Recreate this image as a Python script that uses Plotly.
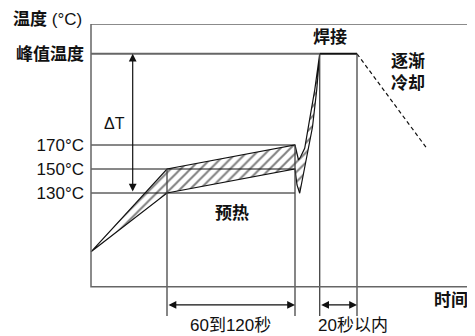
import plotly.graph_objects as go

# Температурный профиль пайки (схема), время в условных единицах
peak_temp = 246
preheat_levels = [130, 150, 170]
preheat_labels = ['130°C', '150°C', '170°C']
peak_label = '<b>峰值温度</b>'

# верхняя граница профиля
upper_time = [0, 76, 204, 206, 207.5, 209.5, 211.5, 213.7, 217.7, 223.7, 228.7]
upper_temp = [81, 150, 170, 161.7, 157.5, 160, 163.3, 167.3, 186.7, 215.8, 246]
# нижняя граница профиля
lower_time = [0, 76, 204, 206, 208.7, 212, 215, 218, 221.5, 225.7, 228.7]
lower_temp = [81, 130, 150, 136.7, 129.8, 144.2, 157.1, 170, 185, 215.8, 246]

preheat_start, preheat_end = 76, 204
reflow_start, reflow_end = 228.7, 266
cooling_time = [266, 336]
cooling_temp = [246, 167]

# рамка графика
frame_t = [0, 379.7]
frame_T = [51.9, 270.8]
marker_bottom = 27.5  # концы вертикальных линий под осью
arrow_level = 36.7

FONT = 'Liberation Sans, Noto Sans CJK SC, sans-serif'
BLACK = '#111111'
GRAY = '#666666'

fig = go.Figure()

# заштрихованная область между границами
fig.add_trace(go.Scatter(
    x=upper_time + lower_time[::-1],
    y=upper_temp + lower_temp[::-1],
    fill='toself', mode='lines',
    line=dict(color=BLACK, width=1.2),
    fillcolor='white',
    fillpattern=dict(shape='/', size=7, solidity=0.28, fgcolor='#000000', bgcolor='white'),
    hoverinfo='skip'))

# горизонтальные линии уровней преднагрева
for lvl in preheat_levels:
    fig.add_trace(go.Scatter(x=[0, preheat_end], y=[lvl, lvl], mode='lines',
                             line=dict(color=BLACK, width=1), hoverinfo='skip'))

# линия пиковой температуры и площадка пайки
fig.add_trace(go.Scatter(x=[0, reflow_start], y=[peak_temp, peak_temp], mode='lines',
                         line=dict(color=GRAY, width=2), hoverinfo='skip'))
fig.add_trace(go.Scatter(x=[reflow_start, reflow_end], y=[peak_temp, peak_temp], mode='lines',
                         line=dict(color=BLACK, width=2), hoverinfo='skip'))

# охлаждение
fig.add_trace(go.Scatter(x=cooling_time, y=cooling_temp, mode='lines',
                         line=dict(color=BLACK, width=1.2, dash='4px,3px'), hoverinfo='skip'))

# вертикальные отметки времени
for t, top in [(preheat_start, preheat_levels[1]), (preheat_end, preheat_levels[2]),
               (reflow_start, peak_temp), (reflow_end, peak_temp)]:
    fig.add_trace(go.Scatter(x=[t, t], y=[top, marker_bottom], mode='lines',
                             line=dict(color='#444444', width=1.3), hoverinfo='skip'))

# рамка
fig.add_shape(type='rect', xref='x', yref='y', x0=frame_t[0], x1=frame_t[1],
              y0=frame_T[0], y1=frame_T[1], line=dict(color=GRAY, width=1.5))


def double_arrow(x0, y0, x1, y1):
    fig.add_annotation(x=x1, y=y1, ax=x0, ay=y0, xref='x', yref='y', axref='x', ayref='y',
                       text='', showarrow=True, arrowside='end+start', arrowhead=2,
                       arrowsize=1.3, arrowwidth=1.2, arrowcolor=BLACK)


double_arrow(preheat_start, arrow_level, preheat_end, arrow_level)
double_arrow(reflow_start, arrow_level, reflow_end, arrow_level)
double_arrow(41.7, preheat_levels[0], 41.7, peak_temp)


def label(x, y, text, size=17, xanchor='center', xref='x', yref='y'):
    fig.add_annotation(x=x, y=y, xref=xref, yref=yref, text=text, showarrow=False,
                       xanchor=xanchor, yanchor='middle',
                       font=dict(size=size, color=BLACK, family=FONT))


label(-0.0103, 1.013, '<b>温度</b> (°C)', xanchor='right', xref='paper', yref='paper')
label(23, 188.3, 'ΔT', size=16)
label(239, 259.2, '<b>焊接</b>')
label(317, 230.4, '<b>逐渐<br>冷却</b>')
label(140.7, 113.3, '<b>预热</b>')
label(379, 40.8, '<b>时间</b>', xanchor='right')
label(139, 20, '60到120秒')
label(262, 20, '20秒以内')

# страница имеет отступ 8px, поэтому фигура на 8px меньше окна
fig.update_layout(
    width=467, height=328,
    margin=dict(l=80, r=0, t=16, b=0),
    plot_bgcolor='white', paper_bgcolor='white',
    showlegend=False,
    font=dict(family=FONT, size=17, color=BLACK),
    xaxis=dict(range=[-3, 384], visible=False, fixedrange=True),
    yaxis=dict(range=[10.83, 270.83], showgrid=False, zeroline=False, showline=False,
               ticks='', tickvals=preheat_levels + [peak_temp],
               ticktext=preheat_labels + [peak_label], fixedrange=True,
               ticklabelstandoff=3, tickfont=dict(size=17, color=BLACK)),
)

fig.write_html("out.html")
